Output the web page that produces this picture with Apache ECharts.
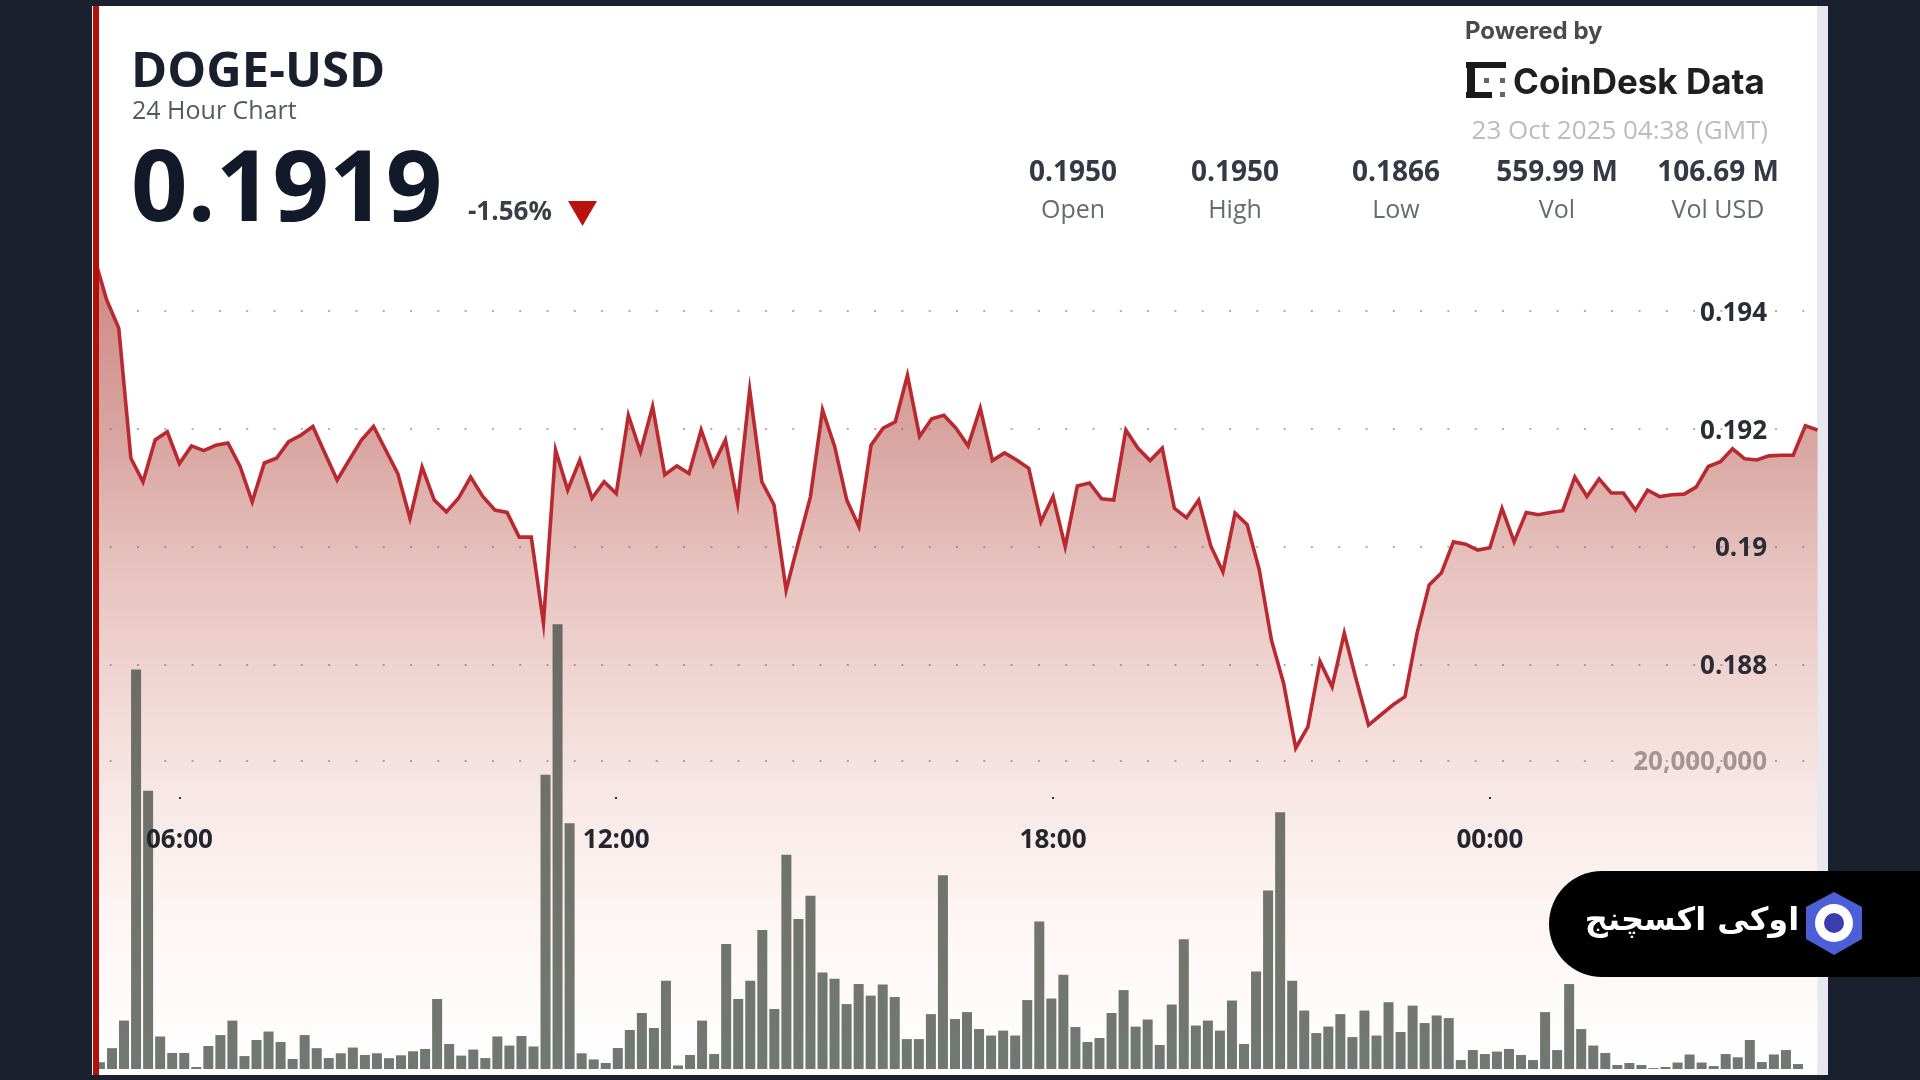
<!DOCTYPE html>
<html>
<head>
<meta charset="utf-8">
<title>DOGE-USD 24 Hour Chart</title>
<script src="https://cdn.jsdelivr.net/npm/echarts@6/dist/echarts.min.js"></script>
<style>html,body{margin:0;padding:0;background:#1a202d}#c{width:1920px;height:1080px}</style>
</head>
<body>
<div id="c"></div>
<script>
const priceValues = [0.19490,0.19419,0.19371,
0.19150,0.19110,0.19181,0.19195,0.19141,0.19171,0.19163,0.19172,0.19176,0.19136,
0.19076,0.19142,0.19150,0.19178,0.19189,0.19204,0.19158,0.19113,0.19147,0.19181,
0.19204,0.19164,0.19124,0.19048,0.19135,0.19079,0.19059,0.19082,0.19118,0.19085,
0.19062,0.19058,0.19016,0.19016,0.18870,0.19164,0.19096,0.19147,0.19082,0.19110,
0.19090,0.19223,0.19161,0.19238,0.19122,0.19137,0.19124,0.19198,0.19139,0.19181,
0.19074,0.19266,0.19110,0.19071,0.18926,0.19006,0.19084,0.19232,0.19170,0.19079,
0.19034,0.19172,0.19201,0.19212,0.19291,0.19187,0.19217,0.19223,0.19201,0.19171,
0.19235,0.19146,0.19159,0.19147,0.19133,0.19042,0.19085,0.19000,0.19103,0.19108,
0.19081,0.19079,0.19198,0.19167,0.19146,0.19167,0.19065,0.19049,0.19079,0.19001,
0.18957,0.19057,0.19037,0.18960,0.18841,0.18768,0.18658,0.18694,0.18805,0.18762,
0.18853,0.18773,0.18697,0.18714,0.18731,0.18745,0.18853,0.18935,0.18955,0.19008,
0.19004,0.18994,0.18998,0.19065,0.19008,0.19058,0.19054,0.19058,0.19061,0.19118,
0.19085,0.19115,0.19091,0.19091,0.19062,0.19096,0.19085,0.19088,0.19089,0.19101,
0.19136,0.19144,0.19166,0.19149,0.19147,0.19154,0.19155,0.19155,0.19205,0.19198];
const volumeMillions = [0.44,1.35,3.14,25.9,18.05,2.11,1.04,1.04,0.13,1.49,2.2,3.14,0.84,1.88,2.43,1.75,0.65,2.2,1.35,0.71,
1.02,1.39,0.91,1.02,0.7,0.89,1.15,1.3,4.54,1.62,0.87,1.26,0.71,2.11,1.52,2.14,1.46,19.08,28.84,15.93,
1.02,0.62,0.39,1.36,2.53,3.63,2.66,5.73,0.23,0.91,3.14,0.97,8.1,4.54,5.73,9.01,3.89,13.9,9.72,11.24,
6.25,5.86,4.21,5.51,4.76,5.48,4.67,1.94,1.94,3.56,12.57,3.24,3.69,2.59,2.17,2.49,2.17,4.47,9.56,4.57,
6.12,2.72,1.75,2.01,3.63,5.12,2.75,3.21,1.56,4.18,8.42,2.82,3.14,2.49,4.44,1.62,6.32,11.57,16.65,5.73,
3.79,2.33,2.75,3.56,2.07,3.79,2.17,4.33,2.4,4.11,2.98,3.47,3.3,0.58,1.23,0.97,1.13,1.3,0.91,0.58,
3.69,1.23,5.51,2.59,1.52,1.04,0.26,0.39,0.26,0.06,0.13,0.42,0.94,0.42,0.19,0.97,0.76,1.88,0.45,0.94,1.23,0.32];
const priceTicks = [0.188, 0.19, 0.192, 0.194];
const volumeTicks = [20];
const timeTickMinutes = [360, 720, 1080, 1440];
const timeTickLabels = ['06:00', '12:00', '18:00', '00:00'];
const priceStartMinute = 290, priceStepMinutes = 10;
const barStartMinute = 294.5, barStepMinutes = 9.925;
const statValues = ['0.1950', '0.1950', '0.1866', '559.99 M', '106.69 M'];
const statLabels = ['Open', 'High', 'Low', 'Vol', 'Vol USD'];

const linePoints = priceValues.map((v, i) => [priceStartMinute + i * priceStepMinutes, v]);
const barPoints = volumeMillions.map((v, i) => [barStartMinute + i * barStepMinutes, v]);

const OS = '"Open Sans"';
function txt(text, x, y, font, fill, align) {
  return { type: 'text', z: 100, x, y, silent: true,
    style: { text, font, fill, align: align || 'left', verticalAlign: 'middle' } };
}
function box(x, y, w, h, fill, z, r) {
  return { type: 'rect', z: z === undefined ? 100 : z, silent: true,
    shape: { x, y, width: w, height: h, r: r || 0 }, style: { fill } };
}
const statX = [1073, 1235, 1396, 1557, 1718];
const graphics = [
  box(92, 6, 1736, 1069, '#ffffff', -2),
  box(1817, 6, 11, 1069, '#e7e7ef', -1),
  box(93, 6, 6, 1069, '#b3100c', 100),
  txt('DOGE-USD', 131, 73, '700 49px ' + OS, '#18202e'),
  txt('24 Hour Chart', 132, 112, '400 25px ' + OS, '#555a60'),
  txt('0.1919', 131, 193, '700 99px ' + OS, '#121a2a'),
  txt('-1.56%', 468, 213, '700 26px ' + OS, '#3a3f46'),
  { type: 'polygon', z: 100, silent: true, shape: { points: [[568, 201], [597, 201], [582.5, 226]] }, style: { fill: '#b9130f' } },
  txt('Powered by', 1465, 32, '700 24px Inter', '#4a4a4a'),
  txt('CoinDesk Data', 1513, 83, '700 35px Inter', '#1f1f1f'),
  box(1466, 62, 40, 6, '#1a1a1a'),
  box(1467, 62, 8, 36, '#1a1a1a'),
  box(1466, 92, 26, 6, '#1a1a1a'),
  box(1484, 78, 5, 5, '#666666'),
  box(1500, 78, 5, 5, '#666666'),
  box(1500, 92, 5, 5, '#666666'),
  txt('23 Oct 2025 04:38 (GMT)', 1768, 132, '400 26px ' + OS, '#bcbcbc', 'right'),
  // badge
  { type: 'rect', z: 110, silent: true, shape: { x: 1549, y: 871, width: 420, height: 106, r: 53 }, style: { fill: '#000000' } },
  { type: 'polygon', z: 111, silent: true, shape: { points: [[1834, 892], [1862, 907], [1862, 939], [1834, 955], [1806, 939], [1806, 907]] }, style: { fill: '#4b5fd6' } },
  { type: 'circle', z: 112, silent: true, shape: { cx: 1834, cy: 923, r: 19 }, style: { fill: '#ffffff' } },
  { type: 'circle', z: 113, silent: true, shape: { cx: 1834, cy: 923, r: 10 }, style: { fill: '#3b3cb0' } },
  { type: 'text', z: 112, x: 1692, y: 922, silent: true,
    style: { text: 'اوکی اکسچنج', font: '700 32px "DejaVu Sans"', fill: '#ffffff', align: 'center', verticalAlign: 'middle' } }
];
statValues.forEach((s, i) => {
  graphics.push(txt(s, statX[i], 173, '700 28px ' + OS, '#333a44', 'center'));
  graphics.push(txt(statLabels[i], statX[i], 211, '400 25px ' + OS, '#666b70', 'center'));
});

const dotLine = { show: true, lineStyle: { color: 'rgba(110,110,110,0.55)', width: 2, type: [2, 25.3], dashOffset: 15.6 } };
const labelRich = (color) => ({ a: { padding: [5, 0, 0, 0], color, fontFamily: 'Open Sans', fontWeight: 700, fontSize: 26 } });

const chart = echarts.init(document.getElementById('c'));
chart.setOption({
  animation: false,
  backgroundColor: '#1a202d',
  graphic: graphics,
  grid: { left: 98, right: 103, top: 240, bottom: 11, containLabel: false },
  xAxis: {
    type: 'value', min: 292.9, max: 1709.6, position: 'bottom', offset: -272, z: 10,
    splitLine: { show: false }, axisLine: { show: false },
    axisTick: { show: true, length: 2, inside: false, lineStyle: { color: '#333', width: 2 }, customValues: timeTickMinutes },
    axisLabel: {
      customValues: timeTickMinutes, margin: 31, color: '#23262c',
      fontFamily: 'Open Sans', fontWeight: 700, fontSize: 26,
      formatter: v => timeTickLabels[timeTickMinutes.indexOf(v)]
    }
  },
  yAxis: [
    {
      type: 'value', min: 0.181129, max: 0.195206, position: 'right', z: 10,
      axisLine: { show: false }, axisTick: { show: false, customValues: priceTicks },
      splitLine: dotLine,
      axisLabel: { customValues: priceTicks, inside: true, margin: 50, rich: labelRich('#2a2d33'),
        formatter: v => '{a|' + String(v) + '}' }
    },
    {
      type: 'value', min: 0, max: 53.76, position: 'right', z: 10,
      axisLine: { show: false }, axisTick: { show: false, customValues: volumeTicks },
      splitLine: dotLine,
      axisLabel: { customValues: volumeTicks, inside: true, margin: 50, rich: labelRich('rgba(120,105,105,0.65)'),
        formatter: v => '{a|' + (v * 1e6).toLocaleString('en-US') + '}' }
    }
  ],
  series: [
    {
      type: 'line', data: linePoints, yAxisIndex: 0, showSymbol: false, z: 2, clip: true,
      lineStyle: { color: '#b92a30', width: 3.6, join: 'miter' },
      areaStyle: { origin: 'start', color: { type: 'linear', x: 0, y: 0, x2: 0, y2: 1, colorStops: [
        { offset: 0, color: '#b8554d' }, { offset: 0.23, color: '#c9807a' }, { offset: 0.38, color: '#dca8a2' },
        { offset: 0.55, color: '#ecc9c5' }, { offset: 0.67, color: '#f5dfdc' }, { offset: 0.8, color: '#fcf0ee' }, { offset: 1, color: '#ffffff' }
      ] } }
    },
    {
      type: 'bar', data: barPoints, yAxisIndex: 1, barWidth: 10, z: 3,
      itemStyle: { color: 'rgba(58,66,58,0.72)' }
    }
  ]
});
</script>
</body>
</html>
